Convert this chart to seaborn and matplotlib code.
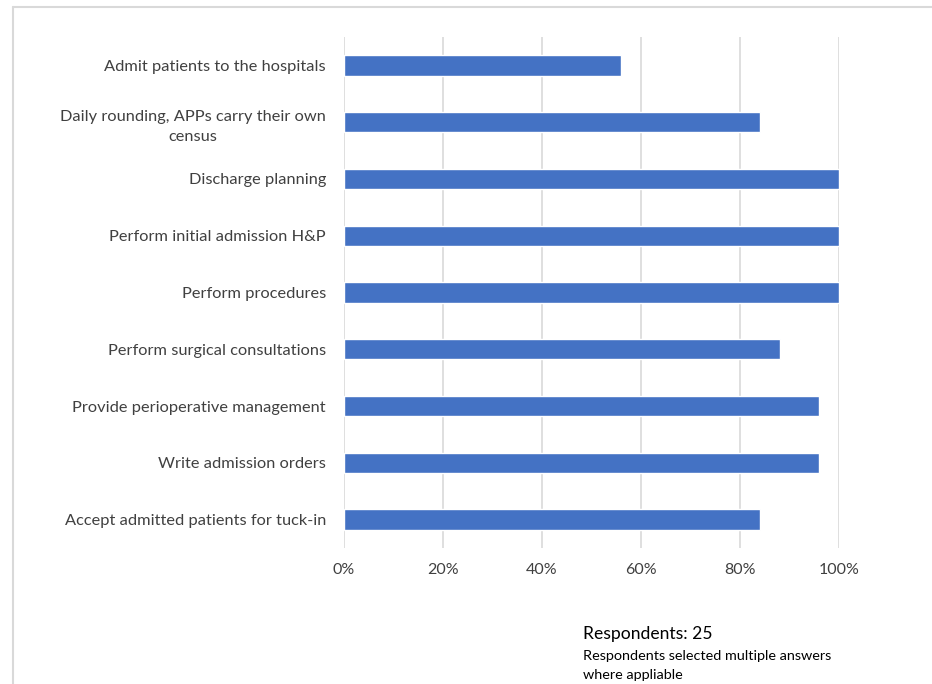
import matplotlib
matplotlib.use("Agg")
import matplotlib.pyplot as plt
import seaborn as sns
import pandas as pd
from matplotlib.lines import Line2D
from matplotlib.ticker import PercentFormatter

# Survey responses: share of programs where APPs perform each role
roles = [
    "Admit patients to the hospitals",
    "Daily rounding, APPs carry their own\ncensus",
    "Discharge planning",
    "Perform initial admission H&P",
    "Perform procedures",
    "Perform surgical consultations",
    "Provide perioperative management",
    "Write admission orders",
    "Accept admitted patients for tuck-in",
]
shares = [56, 84, 100, 100, 100, 88, 96, 96, 84]
x_ticks = [0, 20, 40, 60, 80, 100]

df = pd.DataFrame({"role": roles, "share": shares})

sns.set_theme(style="white")
plt.rcParams["font.family"] = ["Lato", "DejaVu Sans"]

fig = plt.figure(figsize=(9.32, 6.84), dpi=100)
ax = fig.add_axes([344 / 932, 1 - 548 / 684, 495 / 932, (548 - 37) / 684])

sns.barplot(data=df, x="share", y="role", orient="h", color="#4472C4",
            saturation=1, width=0.36, ax=ax, zorder=3)

ax.set_xlim(0, 100)
ax.set_xticks(x_ticks)
ax.xaxis.set_major_formatter(PercentFormatter(decimals=0))
ax.grid(axis="x", color="#D9D9D9", linewidth=1.2, zorder=0)
ax.grid(axis="y", visible=False)
for s in ax.spines.values():
    s.set_visible(False)
ax.set_xlabel("")
ax.set_ylabel("")
ax.tick_params(axis="both", length=0, labelcolor="#404040")
ax.tick_params(axis="y", pad=13, labelsize=11.8)
ax.tick_params(axis="x", pad=11, labelsize=11.5)
for lbl in ax.get_yticklabels():
    lbl.set_multialignment("center")
    lbl.set_linespacing(1.6)

# Footnote
fig.text(583 / 932, 1 - 634 / 684, "Respondents: 25", fontsize=12.6,
         color="black", va="center", ha="left")
fig.text(583 / 932, 1 - 656 / 684, "Respondents selected multiple answers",
         fontsize=10.4, color="black", va="center", ha="left")
fig.text(583 / 932, 1 - 675 / 684, "where appliable",
         fontsize=10.4, color="black", va="center", ha="left")

# Light frame along the top and left edges
fig.add_artist(Line2D([13 / 932, 13 / 932], [0, 1 - 7 / 684],
                      transform=fig.transFigure, color="#D9D9D9", linewidth=1.5))
fig.add_artist(Line2D([13 / 932, 1], [1 - 7 / 684, 1 - 7 / 684],
                      transform=fig.transFigure, color="#D9D9D9", linewidth=1.5))

fig.savefig("out.png", dpi=100, facecolor="white")
